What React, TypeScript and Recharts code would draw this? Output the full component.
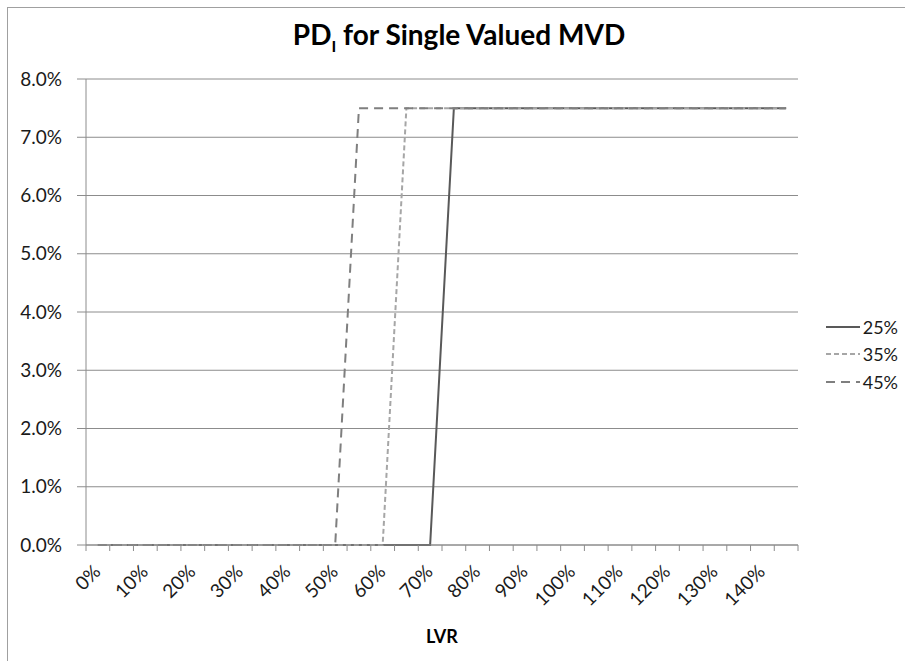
import { LineChart, Line, XAxis, YAxis, CartesianGrid, Legend } from 'recharts';

// LVR categories (x), in percent
const lvr = [0, 5, 10, 15, 20, 25, 30, 35, 40, 45, 50, 55, 60, 65, 70, 75, 80, 85, 90, 95, 100, 105, 110, 115, 120, 125, 130, 135, 140, 145];

// PD_I for each MVD volatility level
const pd25 = [0, 0, 0, 0, 0, 0, 0, 0, 0, 0, 0, 0, 0, 0, 0, 0.075, 0.075, 0.075, 0.075, 0.075, 0.075, 0.075, 0.075, 0.075, 0.075, 0.075, 0.075, 0.075, 0.075, 0.075];
const pd35 = [0, 0, 0, 0, 0, 0, 0, 0, 0, 0, 0, 0, 0, 0.075, 0.075, 0.075, 0.075, 0.075, 0.075, 0.075, 0.075, 0.075, 0.075, 0.075, 0.075, 0.075, 0.075, 0.075, 0.075, 0.075];
const pd45 = [0, 0, 0, 0, 0, 0, 0, 0, 0, 0, 0, 0.075, 0.075, 0.075, 0.075, 0.075, 0.075, 0.075, 0.075, 0.075, 0.075, 0.075, 0.075, 0.075, 0.075, 0.075, 0.075, 0.075, 0.075, 0.075];

const xLabelTicks = [0, 10, 20, 30, 40, 50, 60, 70, 80, 90, 100, 110, 120, 130, 140];
const xBoundaryTicks = [-2.5, 2.5, 7.5, 12.5, 17.5, 22.5, 27.5, 32.5, 37.5, 42.5, 47.5, 52.5, 57.5, 62.5, 67.5, 72.5, 77.5, 82.5, 87.5, 92.5, 97.5, 102.5, 107.5, 112.5, 117.5, 122.5, 127.5, 132.5, 137.5, 142.5, 147.5];
const yTicks = [0, 0.01, 0.02, 0.03, 0.04, 0.05, 0.06, 0.07, 0.08];

const series = [
  { key: 'pd25', name: '25%', color: '#595959', dash: undefined as string | undefined, width: 2 },
  { key: 'pd35', name: '35%', color: '#a6a6a6', dash: '5 3', width: 2 },
  { key: 'pd45', name: '45%', color: '#7f7f7f', dash: '9 6', width: 2 },
];

const data = lvr.map((x, i) => ({ lvr: x, pd25: pd25[i], pd35: pd35[i], pd45: pd45[i] }));

const FONT = 'Lato, "Open Sans", sans-serif';
const GRID = '#8c8c8c';
const TEXT = '#1a1a1a';

const XTick = (props: any) => {
  const { x, y, payload } = props;
  const v = payload.value as number;
  if (v % 5 !== 0) {
    return <line x1={x} y1={y} x2={x} y2={y + 6} stroke={GRID} strokeWidth={1} />;
  }
  const tx = x + 4;
  const ty = y + 28;
  return (
    <text x={tx} y={ty} transform={`rotate(-45, ${tx}, ${ty})`} textAnchor="end" fontSize={19} fontFamily={FONT} fill={TEXT}>
      {v}%
    </text>
  );
};

const LegendContent = () => (
  <div style={{ width: 100, paddingLeft: 28, boxSizing: 'border-box', fontFamily: FONT, fontSize: 18, color: TEXT }}>
    {series.map(s => (
      <div key={s.key} style={{ display: 'flex', alignItems: 'center', height: 27.5 }}>
        <svg width={34} height={4} style={{ marginRight: 3 }}>
          <line x1={0} y1={2} x2={34} y2={2} stroke={s.color} strokeWidth={2} strokeDasharray={s.dash} />
        </svg>
        <span>{s.name}</span>
      </div>
    ))}
  </div>
);

export default function App() {
  return (
    <div style={{ position: 'absolute', left: 0, top: 0, width: 905, height: 661, overflow: 'hidden', background: '#fff' }}>
      <div style={{ position: 'absolute', left: 7, top: 7, width: 898, height: 654, borderLeft: '1px solid #a0a0a0', borderTop: '1px solid #a0a0a0' }} />
      <div style={{ position: 'absolute', left: 0, top: 17, width: 918, textAlign: 'center', fontFamily: FONT, fontWeight: 700, fontSize: 28, color: '#000' }}>
        PD<sub style={{ fontSize: 16 }}>I</sub> for Single Valued MVD
      </div>
      <div style={{ position: 'absolute', left: 0, top: 0 }}>
        <LineChart width={905} height={661} data={data} margin={{ top: 79, right: 7, bottom: 0, left: 0 }}>
          <CartesianGrid vertical={false} stroke={GRID} strokeWidth={1} />
          <XAxis
            dataKey="lvr"
            type="number"
            domain={[-2.5, 147.5]}
            ticks={[...xBoundaryTicks, ...xLabelTicks].sort((a, b) => a - b)}
            interval={0}
            height={116}
            tickSize={0}
            tickMargin={0}
            tickLine={false}
            tick={<XTick />}
            axisLine={{ stroke: GRID }}
            label={{ value: 'LVR', position: 'insideBottom', offset: 18, fontFamily: FONT, fontWeight: 700, fontSize: 18, fill: '#000' }}
          />
          <YAxis
            type="number"
            domain={[0, 0.08]}
            ticks={yTicks}
            width={86}
            tickSize={9}
            tickMargin={15}
            tickLine={{ stroke: GRID }}
            axisLine={{ stroke: GRID }}
            tickFormatter={(v: number) => `${(v * 100).toFixed(1)}%`}
            tick={{ fontFamily: FONT, fontSize: 19, fill: TEXT }}
          />
          <Legend
            layout="vertical"
            align="right"
            verticalAlign="middle"
            content={<LegendContent />}
            wrapperStyle={{ top: 313, width: 100 }}
          />
          {series.map(s => (
            <Line
              key={s.key}
              dataKey={s.key}
              name={s.name}
              type="linear"
              stroke={s.color}
              strokeWidth={s.width}
              strokeDasharray={s.dash}
              dot={false}
              activeDot={false}
              isAnimationActive={false}
            />
          ))}
        </LineChart>
      </div>
    </div>
  );
}
